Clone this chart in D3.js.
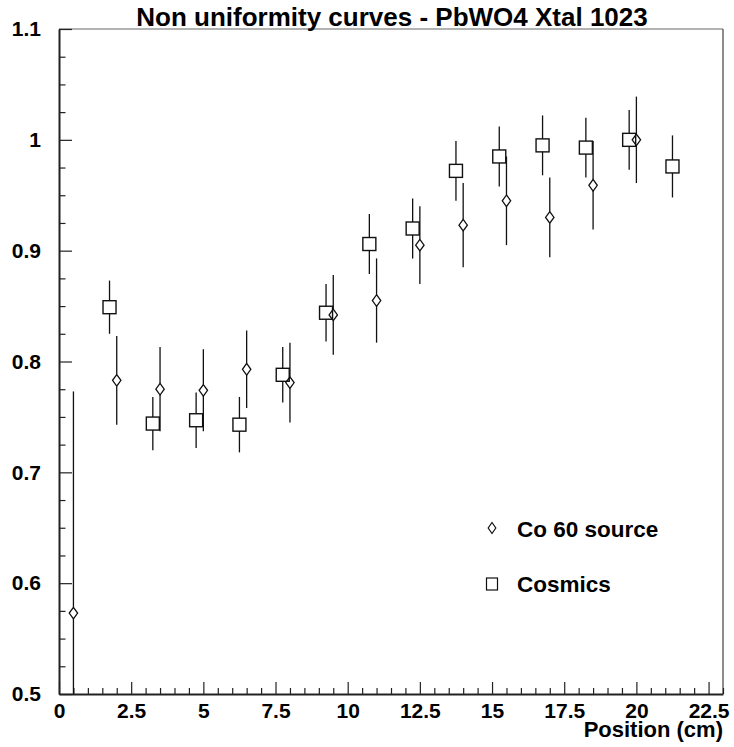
<!DOCTYPE html>
<html>
<head>
<meta charset="utf-8">
<script src="https://cdn.jsdelivr.net/npm/d3@7"></script>
<style>
  html, body { margin: 0; padding: 0; background: #fff; }
  svg { display: block; font-family: "Liberation Sans", Arial, Helvetica, sans-serif; font-weight: bold; }
</style>
</head>
<body>
<svg id="chart" width="734" height="747"></svg>
<script>
// ---- data ----
const titleText = "Non uniformity curves - PbWO4 Xtal 1023";
const xAxisTitle = "Position (cm)";
const legendLabels = ["Co 60 source", "Cosmics"];

const co60X   = [0.5, 2, 3.5, 5, 6.5, 8, 9.5, 11, 12.5, 14, 15.5, 17, 18.5, 20];
const co60Y   = [0.573, 0.783, 0.775, 0.774, 0.793, 0.781, 0.842, 0.855, 0.905, 0.923, 0.945, 0.930, 0.959, 1.000];
const co60Err = [0.200, 0.040, 0.038, 0.037, 0.035, 0.036, 0.036, 0.038, 0.035, 0.038, 0.040, 0.036, 0.040, 0.039];

const cosX   = [1.75, 3.25, 4.75, 6.25, 7.75, 9.25, 10.75, 12.25, 13.75, 15.25, 16.75, 18.25, 19.75, 21.25];
const cosY   = [0.849, 0.744, 0.747, 0.743, 0.788, 0.844, 0.906, 0.920, 0.972, 0.985, 0.995, 0.993, 1.000, 0.976];
const cosErr = [0.024, 0.024, 0.025, 0.025, 0.025, 0.026, 0.027, 0.027, 0.027, 0.027, 0.027, 0.027, 0.027, 0.028];

const xMajorTicks = [0, 2.5, 5, 7.5, 10, 12.5, 15, 17.5, 20, 22.5];
const yMajorTicks = [0.5, 0.6, 0.7, 0.8, 0.9, 1.0, 1.1];

// ---- layout ----
const L = 59, R = 723, T = 29, B = 694;
const svg = d3.select("#chart");
const x = d3.scaleLinear().domain([0, 23]).range([L, R]);
const y = d3.scaleLinear().domain([0.5, 1.1]).range([B, T]);

const xMinor = d3.range(0, 23.001, 0.5).filter(v => Math.abs(v / 2.5 - Math.round(v / 2.5)) > 1e-6);
const yMinor = d3.range(0.5, 1.1001, 0.025).filter(v => Math.abs(v / 0.1 - Math.round(v / 0.1)) > 1e-6);

// frame (top, right)
svg.append("line").attr("x1", L).attr("x2", R).attr("y1", T).attr("y2", T)
  .attr("stroke", "#666").attr("stroke-width", 1.2);
svg.append("line").attr("x1", R).attr("x2", R).attr("y1", T).attr("y2", B)
  .attr("stroke", "#666").attr("stroke-width", 1.5);

// x axis
const gxMinor = svg.append("g").attr("transform", `translate(0,${B})`)
  .call(d3.axisBottom(x).tickValues(xMinor).tickSizeInner(-6).tickSizeOuter(0).tickFormat(""));
gxMinor.select(".domain").remove();
const gx = svg.append("g").attr("transform", `translate(0,${B})`)
  .call(d3.axisBottom(x).tickValues(xMajorTicks).tickSizeInner(-12).tickSizeOuter(0)
    .tickPadding(9).tickFormat(d => String(d)));
gx.select(".domain").attr("stroke", "#222").attr("stroke-width", 2);
gx.selectAll("text").attr("font-size", 21).attr("font-family", null).attr("fill", "#000");

// y axis
const gyMinor = svg.append("g").attr("transform", `translate(${L},0)`)
  .call(d3.axisLeft(y).tickValues(yMinor).tickSizeInner(-6.5).tickSizeOuter(0).tickFormat(""));
gyMinor.select(".domain").remove();
const gy = svg.append("g").attr("transform", `translate(${L},0)`)
  .call(d3.axisLeft(y).tickValues(yMajorTicks).tickSizeInner(-13).tickSizeOuter(0)
    .tickPadding(18).tickFormat(d3.format("~g")));
gy.select(".domain").attr("stroke", "#222").attr("stroke-width", 2);
gy.selectAll("text").attr("font-size", 21).attr("font-family", null).attr("fill", "#000");
svg.selectAll(".tick line").attr("stroke", "#222").attr("stroke-width", 1.2);

// title
svg.append("text").attr("x", (L + R) / 2 + 1).attr("y", 26).attr("text-anchor", "middle")
  .attr("font-size", 26).text(titleText);
// x axis title
svg.append("text").attr("x", R).attr("y", 737).attr("text-anchor", "end")
  .attr("font-size", 22).text(xAxisTitle);

// clip
svg.append("clipPath").attr("id", "plotclip").append("rect")
  .attr("x", L).attr("y", T).attr("width", R - L).attr("height", B - T);
const plot = svg.append("g").attr("clip-path", "url(#plotclip)");

const sqH = 6.5;   // half size of square
const dmW = 4.2, dmH = 5.8; // diamond half sizes

function diamondPath(cx, cy, w, h) {
  return `M${cx},${cy - h}L${cx + w},${cy}L${cx},${cy + h}L${cx - w},${cy}Z`;
}

// cosmics error bars and squares
cosX.forEach((xv, i) => {
  const cx = x(xv), cy = y(cosY[i]);
  const top = y(cosY[i] + cosErr[i]), bot = y(cosY[i] - cosErr[i]);
  plot.append("line").attr("x1", cx).attr("x2", cx).attr("y1", top).attr("y2", cy - sqH)
    .attr("stroke", "#111").attr("stroke-width", 1.3);
  plot.append("line").attr("x1", cx).attr("x2", cx).attr("y1", cy + sqH).attr("y2", bot)
    .attr("stroke", "#111").attr("stroke-width", 1.3);
  plot.append("rect").attr("x", cx - sqH).attr("y", cy - sqH).attr("width", 2 * sqH).attr("height", 2 * sqH)
    .attr("fill", "none").attr("stroke", "#111").attr("stroke-width", 1.4);
});

// Co60 error bars and diamonds
co60X.forEach((xv, i) => {
  const cx = x(xv), cy = y(co60Y[i]);
  const top = y(co60Y[i] + co60Err[i]), bot = y(co60Y[i] - co60Err[i]);
  plot.append("line").attr("x1", cx).attr("x2", cx).attr("y1", top).attr("y2", cy - dmH)
    .attr("stroke", "#111").attr("stroke-width", 1.3);
  plot.append("line").attr("x1", cx).attr("x2", cx).attr("y1", cy + dmH).attr("y2", bot)
    .attr("stroke", "#111").attr("stroke-width", 1.3);
  plot.append("path").attr("d", diamondPath(cx, cy, dmW, dmH))
    .attr("fill", "none").attr("stroke", "#111").attr("stroke-width", 1.3);
});

// legend
const lg = svg.append("g");
lg.append("path").attr("d", diamondPath(492, 528, 3.8, 5.5))
  .attr("fill", "none").attr("stroke", "#111").attr("stroke-width", 1.2);
lg.append("text").attr("x", 517).attr("y", 536.5).attr("font-size", 22.5).text(legendLabels[0]);
lg.append("rect").attr("x", 486.5).attr("y", 578).attr("width", 11).attr("height", 12)
  .attr("fill", "none").attr("stroke", "#111").attr("stroke-width", 1.2);
lg.append("text").attr("x", 517).attr("y", 592).attr("font-size", 22.5).text(legendLabels[1]);
</script>
</body>
</html>
